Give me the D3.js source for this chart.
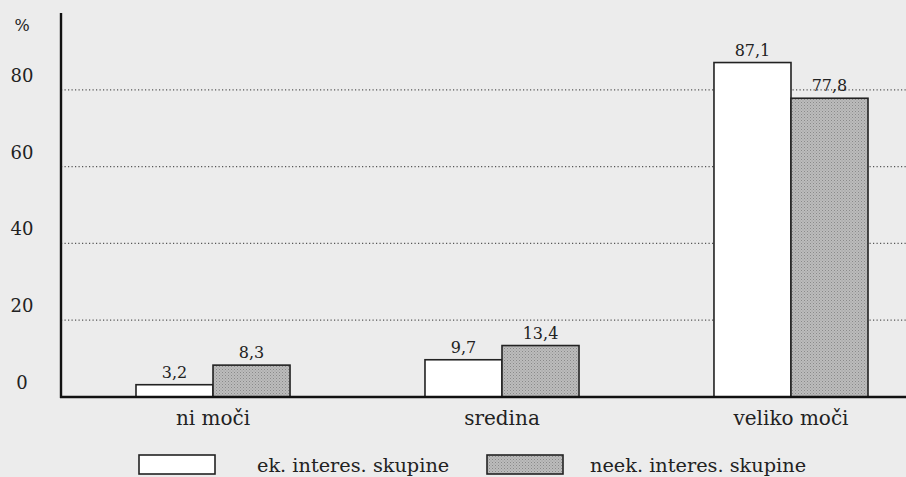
<!DOCTYPE html>
<html><head><meta charset="utf-8">
<script src="https://cdn.jsdelivr.net/npm/d3@7/dist/d3.min.js"></script>
<style>
html,body{margin:0;padding:0;background:#ececec;}
svg{display:block;}
</style></head>
<body>
<svg id="c" width="906" height="477"></svg>
<script>
const categories = ["ni moči", "sredina", "veliko moči"];
const seriesNames = ["ek. interes. skupine", "neek. interes. skupine"];
const ekValues = [3.2, 9.7, 87.1];
const neekValues = [8.3, 13.4, 77.8];
const valueLabels = [["3,2", "9,7", "87,1"], ["8,3", "13,4", "77,8"]];
const yTicks = [0, 20, 40, 60, 80];
const gridTicks = [20, 40, 60, 80];

const FONT = "'DejaVu Serif', serif";
const svg = d3.select("#c");
const W = 906;
const axisX = 61, base = 397;

const y = d3.scaleLinear().domain([0, 100]).range([base, 13]);
const x0 = d3.scaleBand().domain(categories).range([61, 943]).paddingInner(0.467).paddingOuter(0.2595);
const x1 = d3.scaleBand().domain([0, 1]).range([0, x0.bandwidth()]);

const defs = svg.append("defs");
const pat = defs.append("pattern").attr("id", "dots").attr("width", 3).attr("height", 3).attr("patternUnits", "userSpaceOnUse");
pat.append("rect").attr("width", 3).attr("height", 3).attr("fill", "#bcbcbc");
pat.append("rect").attr("x", 0).attr("y", 0).attr("width", 1).attr("height", 1).attr("fill", "#8a8a8a");
pat.append("rect").attr("x", 1.5).attr("y", 1.5).attr("width", 1).attr("height", 1).attr("fill", "#9a9a9a");

const fills = ["#ffffff", "url(#dots)"];

function txt(sel) { return sel.style("font-family", FONT).attr("fill", "#222"); }

// grid
svg.append("g").selectAll("line").data(gridTicks).join("line")
  .attr("x1", axisX).attr("x2", W).attr("y1", d => y(d)).attr("y2", d => y(d))
  .attr("stroke", "#555").attr("stroke-width", 1.2).attr("stroke-dasharray", "1.2,2.3");

// tick labels
txt(svg.append("g").selectAll("text").data(yTicks).join("text")
  .attr("x", 22).attr("y", d => y(d) - 8).attr("text-anchor", "middle")
  .attr("font-size", 18).text(d => d));
txt(svg.append("text").attr("x", 22).attr("y", 31).attr("text-anchor", "middle").attr("font-size", 16).text("%"));

// bars
const data = [ekValues, neekValues];
const g = svg.append("g");
categories.forEach((c, i) => {
  [0, 1].forEach(s => {
    const v = data[s][i];
    g.append("rect")
      .attr("x", x0(c) + x1(s)).attr("width", x1.bandwidth())
      .attr("y", y(v)).attr("height", base - y(v))
      .attr("fill", fills[s]).attr("stroke", "#222").attr("stroke-width", 1.6);
    txt(g.append("text")
      .attr("x", x0(c) + x1(s) + x1.bandwidth() / 2).attr("y", y(v) - 7)
      .attr("text-anchor", "middle").attr("font-size", 16).text(valueLabels[s][i]));
  });
  txt(svg.append("text").attr("x", x0(c) + x0.bandwidth() / 2).attr("y", 425)
    .attr("text-anchor", "middle").attr("font-size", 20).text(c));
});

// axes lines
svg.append("line").attr("x1", axisX).attr("x2", axisX).attr("y1", 13).attr("y2", base + 1)
  .attr("stroke", "#111").attr("stroke-width", 2.4);
svg.append("line").attr("x1", axisX - 1).attr("x2", W).attr("y1", base).attr("y2", base)
  .attr("stroke", "#111").attr("stroke-width", 2.4);

// legend
const legX = [139, 487], textX = [257, 590];
seriesNames.forEach((n, s) => {
  svg.append("rect").attr("x", legX[s]).attr("y", 455).attr("width", 76).attr("height", 19)
    .attr("fill", fills[s]).attr("stroke", "#222").attr("stroke-width", 1.6);
  txt(svg.append("text").attr("x", textX[s]).attr("y", 472).attr("font-size", 19.3).text(n));
});
</script>
</body></html>
